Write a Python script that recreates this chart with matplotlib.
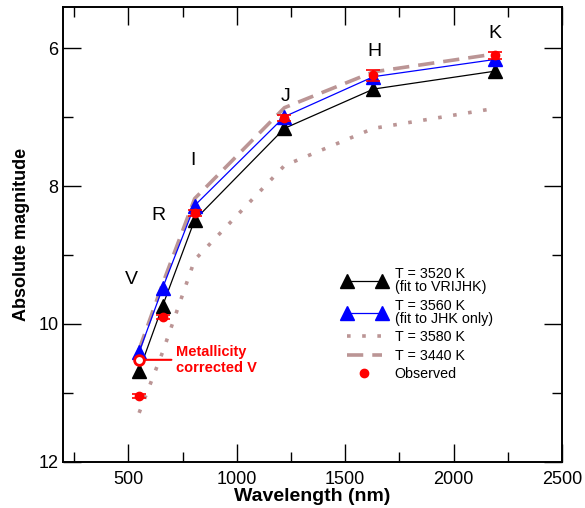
import matplotlib
matplotlib.use("Agg")
import matplotlib.pyplot as plt
from matplotlib.lines import Line2D
from matplotlib.legend_handler import HandlerLine2D
from matplotlib.ticker import MultipleLocator

plt.rcParams["font.family"] = ["Liberation Sans", "DejaVu Sans"]

# Band wavelengths (nm) and labels
bands = ["V", "R", "I", "J", "H", "K"]
wavelength = [550, 658, 806, 1220, 1630, 2190]

# Model magnitudes
fit_3520 = [10.68, 9.74, 8.49, 7.16, 6.59, 6.33]   # fit to VRIJHK
fit_3560 = [10.41, 9.48, 8.28, 6.99, 6.41, 6.16]   # fit to JHK only
model_3580 = [11.29, 10.41, 9.07, 7.70, 7.16, 6.87]
model_3440 = [10.37, 9.42, 8.18, 6.86, 6.34, 6.08]

# Observed magnitudes and errors
observed = [11.05, 9.90, 8.39, 7.01, 6.39, 6.10]
observed_err = [0.03, 0.03, 0.04, 0.04, 0.08, 0.05]
v_corrected = 10.52

# where the band letters sit (data coords)
band_label_x = [513, 638, 799, 1223, 1633, 2191]
band_label_y = [9.35, 8.43, 7.62, 6.70, 6.04, 5.78]

MODEL_COLOR = "#bb9595"

fig = plt.figure(figsize=(5.85, 5.08), dpi=100)
ax = fig.add_axes([0.108, 0.091, 0.853, 0.895])

dotted, = ax.plot(wavelength, model_3580, linestyle=(0, (1, 3.2)), color=MODEL_COLOR,
                  linewidth=2.6, label="T = 3580 K", zorder=1)
dashed, = ax.plot(wavelength, model_3440, linestyle=(0, (4.5, 2.5)), color=MODEL_COLOR,
                  linewidth=2.6, label="T = 3440 K", zorder=1)
black, = ax.plot(wavelength, fit_3520, color="black", linewidth=0.9, marker="^",
                 markersize=10, label="T = 3520 K\n(fit to VRIJHK)", zorder=3)
blue, = ax.plot(wavelength, fit_3560, color="blue", linewidth=0.9, marker="^",
                markersize=10, label="T = 3560 K\n(fit to JHK only)", zorder=3)
ax.errorbar(wavelength, observed, yerr=observed_err, fmt="o", color="red",
            markersize=6, capsize=5, elinewidth=1.2, capthick=1.2, zorder=4)
obs_handle = Line2D([], [], marker="o", color="red", markersize=6, linestyle="none")

# Metallicity corrected V point
ax.plot([wavelength[0]], [v_corrected], marker="o", markersize=7,
        markerfacecolor="white", markeredgecolor="red", markeredgewidth=2,
        linestyle="none", zorder=5)
ax.annotate("Metallicity\ncorrected V", xy=(wavelength[0], v_corrected),
            xytext=(718, v_corrected), color="red", fontsize=10.5,
            fontweight="bold", va="center", ha="left",
            arrowprops=dict(arrowstyle="-", color="red", lw=1.5,
                            shrinkA=1, shrinkB=4))

# Band labels
for b, x, y in zip(bands, band_label_x, band_label_y):
    ax.text(x, y, b, fontsize=14, ha="center", va="center")

ax.set_xlim(200, 2500)
ax.set_ylim(12, 5.4)
ax.xaxis.set_major_locator(MultipleLocator(500))
ax.xaxis.set_minor_locator(MultipleLocator(250))
ax.yaxis.set_major_locator(MultipleLocator(2))
ax.yaxis.set_minor_locator(MultipleLocator(1))
ax.tick_params(which="both", direction="in", top=True, right=True,
               labelsize=13, width=1)
ax.tick_params(which="major", length=13)
ax.tick_params(which="minor", length=7)
ax.tick_params(axis="x", which="major", pad=7)
for spine in ax.spines.values():
    spine.set_linewidth(1.4)

ax.set_xlabel("Wavelength (nm)", fontsize=14, fontweight="bold", labelpad=0)
ax.set_ylabel("Absolute magnitude", fontsize=13, fontweight="bold", labelpad=6)

leg = ax.legend([black, blue, dotted, dashed, obs_handle],
                ["T = 3520 K\n(fit to VRIJHK)", "T = 3560 K\n(fit to JHK only)",
                 "T = 3580 K", "T = 3440 K", "Observed"],
                handler_map={obs_handle: HandlerLine2D(numpoints=1)},
                loc="upper left", bbox_to_anchor=(0.535, 0.457), frameon=False,
                numpoints=2, fontsize=10.3, handlelength=3.0, labelspacing=0.3,
                handletextpad=0.6)
for t in leg.get_texts():
    t.set_linespacing(0.95)

fig.savefig("out.png", dpi=100)
